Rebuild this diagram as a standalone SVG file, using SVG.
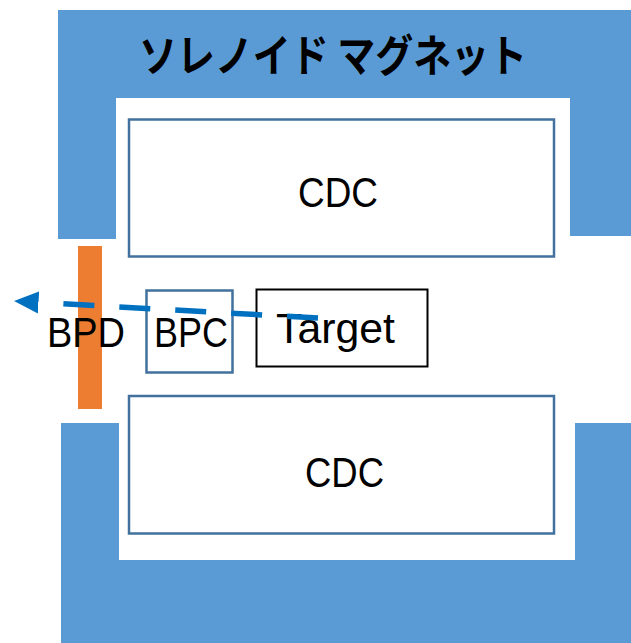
<svg xmlns="http://www.w3.org/2000/svg" width="631" height="643" viewBox="0 0 631 643">
  <style>
    .magnet { fill: #5B9BD5; }
    .box { fill: #FFFFFF; stroke: #41719C; stroke-width: 2.5; }
    .tbox { fill: #FFFFFF; stroke: #000000; stroke-width: 2; }
    .lbl { font-family: "Liberation Sans", Arial, sans-serif; font-size: 42px; fill: #000000; }
    .title { font-family: "Noto Sans CJK JP", "Noto Sans CJK SC", sans-serif; font-size: 44px; font-weight: bold; fill: #000000; }
    .beam { fill: none; stroke: #0070C0; stroke-width: 5.5; stroke-dasharray: 31 25; }
  </style>
  <defs>
    <marker id="ah" markerUnits="userSpaceOnUse" markerWidth="30" markerHeight="30" viewBox="0 0 30 30" refX="0" refY="15" orient="auto">
      <path d="M0,4 L24.5,15 L0,26 Z" fill="#0070C0"/>
    </marker>
  </defs>
  <rect width="631" height="643" fill="#FFFFFF"/>
  <g id="magnet-top">
    <path class="magnet" d="M58,10 H631 V236 H570 V98 H116 V239 H58 Z"/>
    <text class="title" x="139" y="72" textLength="388" lengthAdjust="spacingAndGlyphs">ソレノイド マグネット</text>
  </g>
  <g id="magnet-bottom">
    <path class="magnet" d="M61,423 H119 V560 H575 V423 H631 V643 H61 Z"/>
  </g>
  <g id="cdc-top">
    <rect class="box" x="129" y="119.5" width="425" height="137"/>
    <text class="lbl" x="298" y="207" textLength="80" lengthAdjust="spacingAndGlyphs">CDC</text>
  </g>
  <g id="cdc-bottom">
    <rect class="box" x="129" y="396" width="425" height="137.5"/>
    <text class="lbl" x="305" y="487" textLength="79" lengthAdjust="spacingAndGlyphs">CDC</text>
  </g>
  <g id="bpd">
    <rect x="78" y="246" width="24" height="163" fill="#ED7D31"/>
    <text class="lbl" x="47" y="347" textLength="78" lengthAdjust="spacingAndGlyphs">BPD</text>
  </g>
  <g id="bpc">
    <rect class="box" x="146.5" y="290.5" width="86" height="82" stroke-width="2"/>
    <text class="lbl" x="154" y="347" textLength="74" lengthAdjust="spacingAndGlyphs">BPC</text>
  </g>
  <g id="target">
    <rect class="tbox" x="256.5" y="289.5" width="171" height="77"/>
    <text class="lbl" x="276" y="343" textLength="119" lengthAdjust="spacingAndGlyphs">Target</text>
  </g>
  <g id="connectors">
    <line class="beam" x1="318" y1="318" x2="38.5" y2="302.4" marker-end="url(#ah)"/>
  </g>
</svg>
